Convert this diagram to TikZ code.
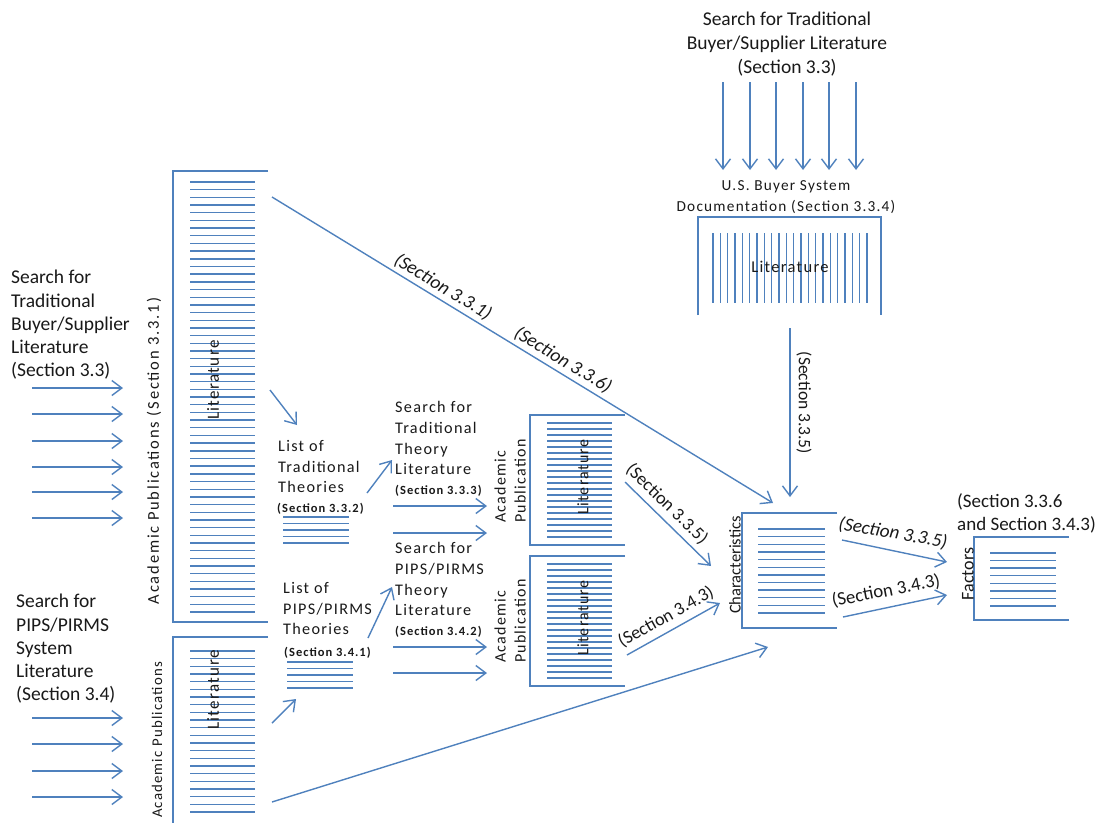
\documentclass[tikz,border=0pt]{standalone}
\usepackage{fontspec}
\setmainfont{Carlito}
\newfontfamily\wide[LetterSpace=8]{Carlito}
\newfontfamily\wider[LetterSpace=11]{Carlito}
\usetikzlibrary{arrows.meta}
\definecolor{lc}{RGB}{79,129,189}
\definecolor{tc}{RGB}{25,25,25}
\newcommand\fs[2]{\fontsize{#1}{#2}\selectfont}
\begin{document}
\begin{tikzpicture}[x=1pt,y=-1pt,
  ln/.style={draw=lc,line width=1.4pt},
  arr/.style={ln,-{Straight Barb[length=10pt,width=15pt,line width=1.4pt]}},
  hatch/.style={draw=lc,line width=1.4pt},
  txt/.style={text=tc,inner sep=0pt,align=left},
  body/.style={txt,font=\fs{19.5}{23.3}},
  spaced/.style={txt,font=\wide\fs{16.2}{20.8}},
  small/.style={txt,font=\wide\bfseries\fs{12.5}{14}},
  vlabel/.style={txt,rotate=90,font=\wide\fs{16}{20}},
  seclbl/.style={txt,font=\fs{18.8}{20}},
  secit/.style={txt,font=\itshape\fs{19}{20}}]
\useasboundingbox (0,0) rectangle (1104,823);

% ---------- inputs on the left: traditional buyer/supplier literature
\node[body,anchor=north west] (inTrad) at (11,270)
  {Search for\\Traditional\\Buyer/Supplier\\Literature\\(Section 3.3)};
\foreach \i/\y in {1/388,2/414,3/441,4/467,5/492,6/518}{
  \coordinate (tA\i) at (32,\y); \coordinate (tB\i) at (123,\y);
  \draw[arr] (tA\i) -- (tB\i);}

% ---------- inputs on the left: PIPS/PIRMS system literature
\node[body,anchor=north west] (inPips) at (16,594)
  {Search for\\PIPS/PIRMS\\System\\Literature\\(Section 3.4)};
\foreach \i/\y in {1/718,2/744,3/771,4/797}{
  \coordinate (pA\i) at (32,\y); \coordinate (pB\i) at (123,\y);
  \draw[arr] (pA\i) -- (pB\i);}

% ---------- large publication box (Section 3.3.1)
\draw[ln] (268,171) -- (173,171) -- (173,622) -- (268,622);
\foreach \i in {0,...,56} \draw[hatch] (190,182+\i*7.68) -- (255,182+\i*7.68);
\node[vlabel,font=\wide\fs{17}{20}] (litBig) at (213,380) {Literature};
\node[txt,rotate=90,font=\wider\fs{16.5}{18}] (apBig) at (154,451)
  {Academic Publications (Section 3.3.1)};

% ---------- lower publication box
\draw[ln] (268,637) -- (173,637) -- (173,823);
\foreach \i in {0,...,21} \draw[hatch] (190,651+\i*7.67) -- (255,651+\i*7.67);
\node[vlabel,font=\wide\fs{17}{20}] (litLow) at (213,690) {Literature};
\node[txt,rotate=90,font=\wide\fs{14.8}{16}] (apLow) at (157,740)
  {Academic Publications};

% ---------- list of traditional theories
\node[spaced,anchor=north west] (listTrad) at (278,440)
  {List of\\Traditional\\Theories};
\node[small,anchor=west] (secA) at (277,509) {(Section 3.3.2)};
\foreach \i in {0,...,4} \draw[hatch] (283,517+\i*6.5) -- (349,517+\i*6.5);

% ---------- list of PIPS/PIRMS theories
\node[spaced,anchor=north west] (listPips) at (283,582)
  {List of\\PIPS/PIRMS\\Theories};
\node[small,anchor=west] (secB) at (284,653) {(Section 3.4.1)};
\foreach \i in {0,...,4} \draw[hatch] (287,662+\i*6.5) -- (353,662+\i*6.5);

% ---------- theory searches
\node[spaced,anchor=north west] (srchTrad) at (395,401)
  {Search for\\Traditional\\Theory\\Literature};
\node[small,anchor=west] (secC) at (395,491) {(Section 3.3.3)};
\node[spaced,anchor=north west] (srchPips) at (395,542)
  {Search for\\PIPS/PIRMS\\Theory\\Literature};
\node[small,anchor=west] (secD) at (395,632) {(Section 3.4.2)};

% ---------- academic publication boxes
\draw[ln] (625,415) -- (530,415) -- (530,545) -- (625,545);
\foreach \i in {0,...,19} \draw[hatch] (547,423+\i*6) -- (612,423+\i*6);
\node[vlabel] (litAp1) at (583,477) {Literature};
\node[vlabel] (ap1) at (510,481) {Academic\\Publication};

\draw[ln] (625,556) -- (530,556) -- (530,686) -- (625,686);
\foreach \i in {0,...,19} \draw[hatch] (547,564+\i*6) -- (612,564+\i*6);
\node[vlabel] (litAp2) at (583,618) {Literature};
\node[vlabel] (ap2) at (510,621) {Academic\\Publication};

% ---------- U.S. buyer system documentation
\node[txt,align=center,font=\fs{19.5}{24}] (srcTop) at (787,44)
  {Search for Traditional\\Buyer/Supplier Literature\\(Section 3.3)};
\foreach \i/\x in {1/723,2/750,3/776,4/803,5/829,6/856}{
  \coordinate (dA\i) at (\x,82); \coordinate (dB\i) at (\x,170);
  \draw[arr] (dA\i) -- (dB\i);}
\node[txt,align=center,font=\wide\fs{15.3}{21}] (usDoc) at (786,197)
  {U.S. Buyer System\\Documentation (Section 3.3.4)};
\draw[ln] (698,315) -- (698,217) -- (881,217) -- (881,315);
\foreach \i in {0,...,21} \draw[hatch] (713+\i*7.33,233) -- (713+\i*7.33,303);
\node[txt,font=\wide\fs{16.5}{18}] (usLit) at (790,267) {Literature};

% ---------- characteristics
\draw[ln] (837,513) -- (742,513) -- (742,628) -- (837,628);
\foreach \i in {0,...,11} \draw[hatch] (758,529+\i*7.64) -- (825,529+\i*7.64);
\node[txt,rotate=90,font=\fs{16.5}{18}] (chLbl) at (735,565) {Characteristics};

% ---------- factors
\draw[ln] (1069,537) -- (974,537) -- (974,620) -- (1069,620);
\foreach \i in {0,...,7} \draw[hatch] (990,553+\i*7.57) -- (1056,553+\i*7.57);
\node[txt,rotate=90,font=\fs{18}{18}] (faLbl) at (968,574) {Factors};
\node[txt,anchor=north west,font=\fs{19}{23}] (faHead) at (957,493)
  {(Section 3.3.6\\and Section 3.4.3)};

% ---------- connectors
\coordinate (bigMid) at (270,390);  \coordinate (ltIn) at (297,425);
\draw[arr] (bigMid) -- (ltIn);
\coordinate (ltOut) at (367,493);   \coordinate (stIn) at (392,460);
\draw[arr] (ltOut) -- (stIn);
\coordinate (lowMid) at (272,723);  \coordinate (lpIn) at (296,699);
\draw[arr] (lowMid) -- (lpIn);
\coordinate (lpOut) at (368,638);   \coordinate (spIn) at (392,587);
\draw[arr] (lpOut) -- (spIn);
\foreach \i/\y in {1/506,2/533,3/647,4/673}{
  \coordinate (sA\i) at (393,\y); \coordinate (sB\i) at (487,\y);
  \draw[arr] (sA\i) -- (sB\i);}

\coordinate (bigTop) at (272,197);  \coordinate (chIn1) at (773,503);
\draw[arr] (bigTop) -- (chIn1);
\node[secit,rotate=-31.4] (l331) at (443,287) {(Section 3.3.1)};
\node[secit,rotate=-31.4] (l336) at (563,360) {(Section 3.3.6)};

\coordinate (usOut) at (790,328);   \coordinate (chIn2) at (790,497);
\draw[arr] (usOut) -- (chIn2);
\node[seclbl,font=\fs{17.5}{20},rotate=-90] (l335v) at (804,403) {(Section 3.3.5)};

\coordinate (ap1Out) at (625,482);  \coordinate (chIn3) at (711,566);
\draw[arr] (ap1Out) -- (chIn3);
\node[seclbl,font=\fs{18.2}{20},rotate=-44.3] (l335a) at (667,504) {(Section 3.3.5)};

\coordinate (ap2Out) at (627,655);  \coordinate (chIn4) at (720,603);
\draw[arr] (ap2Out) -- (chIn4);
\node[seclbl,font=\fs{18.2}{20},rotate=29.2] (l343a) at (666,617) {(Section 3.4.3)};

\coordinate (lowBot) at (272,802);  \coordinate (chIn5) at (768,647);
\draw[arr] (lowBot) -- (chIn5);

\coordinate (chOut1) at (842,540);  \coordinate (faIn1) at (947,562);
\draw[arr] (chOut1) -- (faIn1);
\node[secit,rotate=-10] (l335b) at (893,533) {(Section 3.3.5)};
\coordinate (chOut2) at (843,617);  \coordinate (faIn2) at (947,595);
\draw[arr] (chOut2) -- (faIn2);
\node[seclbl,rotate=11] (l343b) at (886,591) {(Section 3.4.3)};
\end{tikzpicture}
\end{document}
